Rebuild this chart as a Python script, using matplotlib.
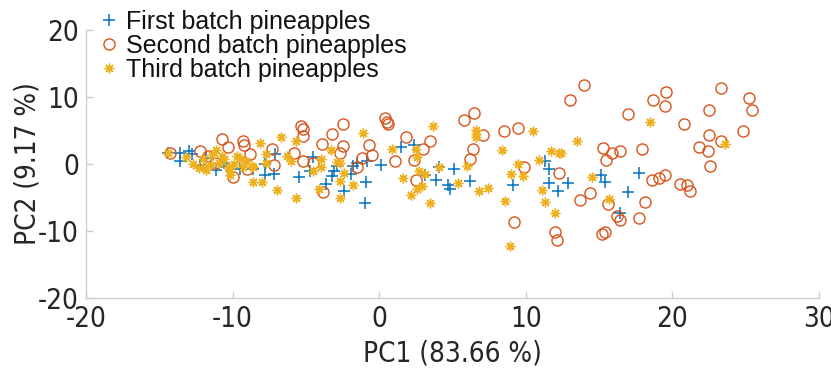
import matplotlib
matplotlib.use("Agg")
import matplotlib.pyplot as plt
from matplotlib import font_manager

plt.rcParams["axes.unicode_minus"] = False

# PCA scores for the three pineapple batches
pc1_first = [15.1, 15.4, 17.7, 17.0, 16.4, 12.9, 1.5, 2.4, -1.5, 0.1, -3.1, -1.9, -0.9, -2.4,
             -1.0, 4.1, 5.1, 3.1, 3.9, 4.7, 4.8, 6.2, 9.1, 11.3, 11.6, 11.6, 12.2, -3.6, -3.2,
             -5.5, -4.5, -7.2, -1.8, -0.8, -14.4, -13.6, -13.0, -12.8, -13.6, -11.1, -10.6,
             -10.4, -9.5, -8.6, -7.8, -7.8, -7.1, -4.7, -2.9, -12.2, -11.8]
pc2_first = [-1.6, -2.7, -1.3, -4.2, -7.3, -2.9, 2.5, 2.9, 0.2, -0.1, -1.0, -1.5, -2.7, -4.0,
             -5.8, -0.5, -0.7, -1.6, -2.4, -3.2, -3.7, -2.6, -3.1, 0.5, -0.7, -2.8, -4.1, -3.0, -1.8,
             -2.0, 1.0, -1.5, -0.3, 0.5, 1.6, 1.7, 2.0, 1.5, 0.5, -0.9, 0.2,
             -0.5, -0.7, -0.8, 0.0, -1.6, 1.5, -1.0, -0.3, -0.2, 0.9]

pc1_second = [14.0, 13.0, 17.0, 18.7, 19.6, 19.5, 23.3, 25.2, 25.4, 22.5, 20.8, 24.8, 22.5, 23.3,
              21.8, 22.4, 22.6, 17.9, 15.3, 15.9, 16.4, 15.5, 18.6, 19.1, 19.5, 20.5, 21.0, 21.2,
              14.4, 13.7, 15.6, 18.1, 16.2, 16.4, 17.7, 15.2, 15.4, 12.3, 12.0, 12.1, 9.2, 9.9,
              8.5, 9.5, 5.8, 6.5, 7.1, 6.4, 6.2, 3.5, 3.0, 2.4, 2.5, 1.8, 1.1, 0.4, 0.5, 0.6,
              -0.7, -0.5, -1.2, -1.5, -2.5, -3.2, -2.5, -2.7, -3.8, -3.9, -4.5, -5.2, -5.3, -5.2,
              -5.2, -7.2, -7.3, -5.8, -8.8, -9.3, -9.2, -10.7, -10.3, -10.0, -11.7, -12.2, -14.3,
              -11.2, -9.0]
pc2_second = [11.8, 9.6, 7.4, 9.6, 10.8, 8.6, 11.3, 9.8, 8.0, 8.1, 6.0, 4.9, 4.3, 3.4,
              2.6, 1.9, -0.3, 2.2, 2.4, 1.6, 1.9, 0.6, -2.4, -2.1, -1.6, -3.0, -3.1, -4.1,
              -4.3, -5.3, -5.9, -5.7, -7.7, -8.4, -8.1, -10.5, -10.1, -1.4, -10.2, -11.3, -8.7, -0.5,
              4.9, 5.4, 6.6, 7.6, 4.4, 2.2, 0.8, 3.5, 2.2, 0.6, -2.4, 4.1, 0.4, 6.9, 6.3, 5.9,
              2.9, 1.4, 0.9, -0.4, 6.0, 4.5, 2.7, 1.7, -4.2, 3.0, 0.2, 0.5, 5.7, 5.2,
              4.2, -0.1, 2.2, 1.7, 1.5, 3.5, 2.9, 3.8, 2.5, -1.9, 1.2, 1.9, 1.6,
              0.2, -0.8]

pc1_third = [18.5, 13.5, 23.6, 14.5, 15.7, 12.4, -1.1, 3.7, 6.6, 6.6, 6.6, 0.9, 2.5, 2.6, 8.4,
             10.5, 11.7, 12.3, 10.9, 9.5, -2.9, -2.7, 4.1, 6.0, 9.0, 9.8, 1.6, 2.7, 3.1, -2.4,
             -2.7, -1.8, 2.9, 2.6, 2.2, 5.4, 6.8, 7.4, 11.1, -2.7, 3.5, 8.6, 11.3, 12.0, 8.9,
             -6.7, -5.7, -3.3, -6.3, -6.0, -4.0, -4.0, -4.1, -7.0, -5.7, -4.5,
             -14.4, -13.2, -12.7, -11.9, -11.8, -11.1, -10.7, -10.6, -10.3, -10.2, -10.2, -9.7,
             -9.4, -9.1, -9.3, -8.7, -8.6, -8.6, -8.0, -8.1, -7.7, -7.7,
             -12.0, -11.5, -10.9, -9.9, -12.3, -11.4]
pc2_third = [6.2, 3.5, 3.0, -1.9, -5.2, 1.6, 4.6, 5.6, 5.1, 4.5, 4.0, 2.2, 2.2, 1.0, 2.1,
             5.0, 2.0, 1.7, 0.6, 0.0, 0.3, 0.1, -0.5, -0.3, -1.5, -1.8, -2.1, -1.0, -1.5, -1.4,
             -2.6, -3.2, -3.3, -3.7, -4.6, -2.9, -4.1, -3.6, -3.9, -5.1, -5.8, -5.5, -5.7, -7.3, -12.2,
             4.1, 3.5, 2.1, 1.2, 0.5, 0.7, -0.5, -3.7, -3.9, -5.1, -1.0,
             1.6, 1.0, 0.0, -0.5, -0.9, 2.1, 1.2, 0.7, -0.5, -1.0, -1.7, 1.2,
             0.7, 0.5, -0.5, -0.3, -0.5, -2.7, -2.7, 3.2, 1.5, 0.2,
             0.8, -0.2, 0.2, 0.0, -0.6, 1.4]

labels = ["First batch pineapples", "Second batch pineapples", "Third batch pineapples"]


def narrow_font(size):
    # prefer a condensed sans for the axis numbers, else plain Liberation Sans a bit smaller
    for f in font_manager.fontManager.ttflist:
        name = f.name.lower()
        cond = "narrow" in name or "condensed" in name or f.stretch in ("condensed", "semi-condensed")
        if cond and f.style == "normal" and f.weight in (400, "normal", "regular") and "mono" not in name:
            return font_manager.FontProperties(fname=f.fname, size=size)
    return font_manager.FontProperties(family="Liberation Sans", size=size * 0.85)


text_col = "#262626"
axis_col = "#cfcfcf"
tick_fp = narrow_font(20)

fig = plt.figure(figsize=(8.31, 3.69), dpi=100)
ax = fig.add_axes([0.1035, 0.1924, 0.882, 0.7263])

ax.plot(pc1_first, pc2_first, linestyle="none", marker="+", markersize=8,
        markeredgewidth=1.1, color="#0072BD", label=labels[0])
ax.plot(pc1_second, pc2_second, linestyle="none", marker="o", markersize=8,
        markerfacecolor="none", markeredgewidth=1.0, color="#D95319", label=labels[1])
ax.plot(pc1_third, pc2_third, linestyle="none", marker=(8, 2, 0), markersize=7,
        markeredgewidth=1.0, color="#EDB120", label=labels[2])

ax.set_xlim(-20, 30)
ax.set_ylim(-20, 20)
ax.set_xticks([-20, -10, 0, 10, 20, 30])
ax.set_yticks([-20, -10, 0, 10, 20])

for s in ["top", "right"]:
    ax.spines[s].set_visible(False)
for s in ["left", "bottom"]:
    ax.spines[s].set_color(axis_col)
    ax.spines[s].set_linewidth(1.0)

ax.tick_params(direction="in", length=5, width=1.0, color=axis_col,
               labelcolor=text_col, pad=5)
for t in ax.get_xticklabels() + ax.get_yticklabels():
    t.set_fontproperties(tick_fp)

ax.set_xlabel("PC1 (83.66 %)", color=text_col, fontproperties=tick_fp)
ax.set_ylabel("PC2 (9.17 %)", color=text_col, fontproperties=tick_fp)
ax.xaxis.set_label_coords(0.5, -0.155)
ax.yaxis.set_label_coords(-0.061, 0.5)

leg = fig.legend(loc="upper left", bbox_to_anchor=(0.107, 1.0), frameon=False,
                 prop={"family": "Liberation Sans", "size": 18}, handlelength=0.8,
                 handletextpad=0.3, labelspacing=0.0, borderaxespad=0)
for t in leg.get_texts():
    t.set_color("#111111")

fig.savefig("out.png", dpi=100)
